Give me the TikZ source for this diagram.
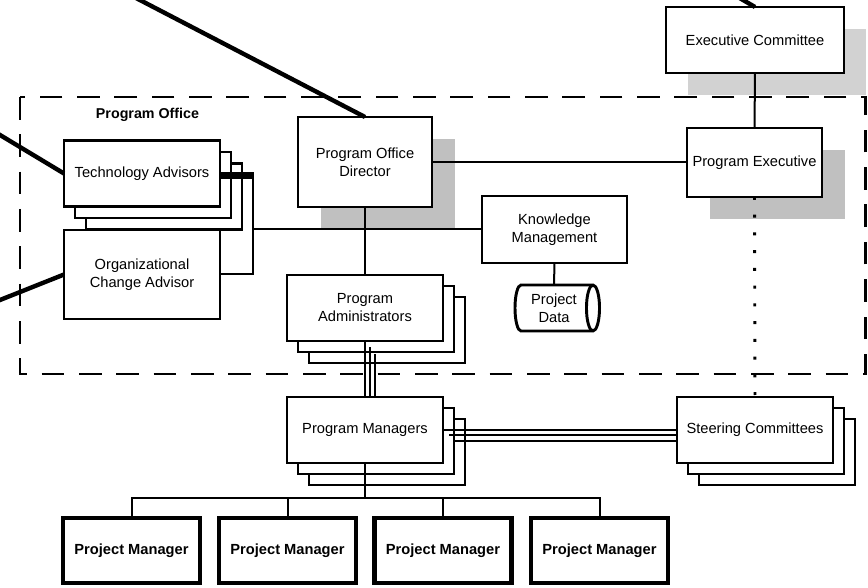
\documentclass[tikz,border=0pt]{standalone}
\usepackage{fontspec}
\setmainfont{Liberation Sans}
\usetikzlibrary{calc,backgrounds}
\definecolor{shadowgray}{HTML}{C0C0C0}
\definecolor{stipplegray}{HTML}{D2D2D2}
\begin{document}
\begin{tikzpicture}[x=0.75pt,y=-0.75pt,
  txt/.style={font=\fontsize{11}{13.5}\selectfont, align=center},
  box/.style={txt, draw, fill=white, line width=2.2pt, inner sep=0pt, outer sep=0pt},
  stackbox/.style={box, minimum width=117pt, minimum height=49.5pt},
  projbox/.style={box, line width=3.3pt, font=\fontsize{11}{13.5}\selectfont\bfseries,
    minimum width=102.75pt, minimum height=48.75pt},
  conn/.style={line width=1.5pt},
  band/.style={line width=1.9pt},
  feed/.style={line width=3.3pt},
  dotline/.style={line width=2.2pt, dash pattern=on 2.2pt off 11.1pt},
  office/.style={line width=2.2pt, dash pattern=on 17pt off 11pt}]
\useasboundingbox (0,0) rectangle (868,588);

% ---- single boxes ----
\node[box, minimum width=133.5pt, minimum height=49.5pt] (ec) at (755,40) {Executive Committee};
\node[box, minimum width=101.25pt, minimum height=51.75pt] (pe) at (754.5,162.5) {Program Executive};
\node[box, minimum width=100.5pt, minimum height=67.5pt] (pod) at (365,162) {Program Office\\Director};
\node[box, minimum width=108.75pt, minimum height=50.25pt] (km) at (554.5,229.5) {Knowledge\\Management};

% ---- stacked boxes (back layers first) ----
\node[stackbox] (ta3) at (164,196.5) {};
\node[stackbox] (ta2) at (153,185) {};
\node[stackbox] (ta) at (142,173.5) {Technology Advisors};
\node[box, minimum width=117pt, minimum height=66.75pt] (oca) at (142,274.5) {Organizational\\Change Advisor};

\node[stackbox] (pa3) at (387,330) {};
\node[stackbox] (pa2) at (376,319) {};
\node[stackbox] (pa) at (365,308) {Program\\Administrators};

\node[stackbox] (pm3) at (387,452) {};
\node[stackbox] (pm2) at (376,441) {};
\node[stackbox] (pm) at (365,430) {Program Managers};

\node[stackbox] (sc3) at (777,452) {};
\node[stackbox] (sc2) at (766,441) {};
\node[stackbox] (sc) at (755,430) {Steering Committees};

% ---- project data store ----
\draw[line width=2.2pt, fill=white]
  (521,285) -- (593,285)
  arc[start angle=90, end angle=-90, x radius=4.9pt, y radius=17.25pt]
  -- (521,331)
  arc[start angle=270, end angle=90, x radius=4.5pt, y radius=17.25pt] -- cycle;
\draw[line width=2.2pt] (593,285) arc[start angle=90, end angle=270, x radius=4.9pt, y radius=17.25pt];
\node[txt, inner sep=0pt, minimum height=34.5pt] (pd) at (554,308) {Project\\Data};

% ---- project managers ----
\node[projbox] (prj1) at (131.5,550.5) {Project Manager};
\node[projbox] (prj2) at (287.5,550.5) {Project Manager};
\node[projbox] (prj3) at (443,550.5) {Project Manager};
\node[projbox] (prj4) at (599.5,550.5) {Project Manager};

\node[font=\fontsize{10.7}{13}\selectfont\bfseries, inner sep=0pt] (pol) at (147.5,115) {Program Office};

% ---- shadows and office boundary ----
\begin{scope}[on background layer]
  \fill[stipplegray] ($(ec.south west)+(22,22)$) rectangle ($(ec.north east)+(22,22)$);
  \fill[shadowgray] ($(pe.south west)+(23,22)$) rectangle ($(pe.north east)+(23,22)$);
  \fill[shadowgray] ($(pod.south west)+(23,22)$) rectangle ($(pod.north east)+(23,22)$);
  \draw[office] (20,97) rectangle (865.5,374);
\end{scope}

% ---- incoming lines from outside ----
\coordinate (f1) at (136,-2);
\coordinate (f2) at (-3,133.2);
\coordinate (f3) at (-3,301.2);
\coordinate (f4) at (739.6,-2);
\draw[feed] (f1) -- (pod.north);
\draw[feed] (f2) -- (ta.west);
\draw[feed] (f3) -- (oca.west);
\draw[feed] (f4) -- (ec.north);

% ---- reporting lines ----
\coordinate (tj) at (253,229.5);
\draw[conn] (ec.south) -- (pe.north);
\draw[conn] (pod.east) -- (pe.west |- pod.east);
\draw[conn] (pod.south) -- (pa.north);
\draw[conn] (ta.east) -- (ta.east -| tj) -- (oca.east -| tj) -- (oca.east);
\draw[band] ($(ta.east)+(0,2.2)$) -- ($(ta.east -| tj)+(0,2.2)$);
\draw[band] ($(ta.east)+(0,4.6)$) -- ($(ta.east -| tj)+(0,4.6)$);
\draw[conn] (tj) -- (km.west);
\draw[conn] (km.south) -- (pd.north);
\draw[dotline] (pe.south) -- (sc.north);

\draw[conn] (pa.south) -- (pm.north);
\draw[conn] ($(pa.south)+(5,6)$) -- ($(pm.north)+(5,0)$);
\draw[conn] ($(pa.south)+(10,13)$) -- ($(pm.north)+(10,0)$);

\draw[conn] (pm.east) -- (sc.west);
\draw[conn] ($(pm.east)+(6,5)$) -- ($(sc.west)+(0,5)$);
\draw[conn] ($(pm.east)+(11,10.5)$) -- ($(sc.west)+(0,10.5)$);

\coordinate (bus) at (365,498);
\draw[conn] (pm.south) -- (bus);
\draw[conn] (prj1.north) |- (bus) -| (prj4.north);
\draw[conn] (prj2.north) -- (prj2.north |- bus);
\draw[conn] (prj3.north) -- (prj3.north |- bus);
\end{tikzpicture}
\end{document}
